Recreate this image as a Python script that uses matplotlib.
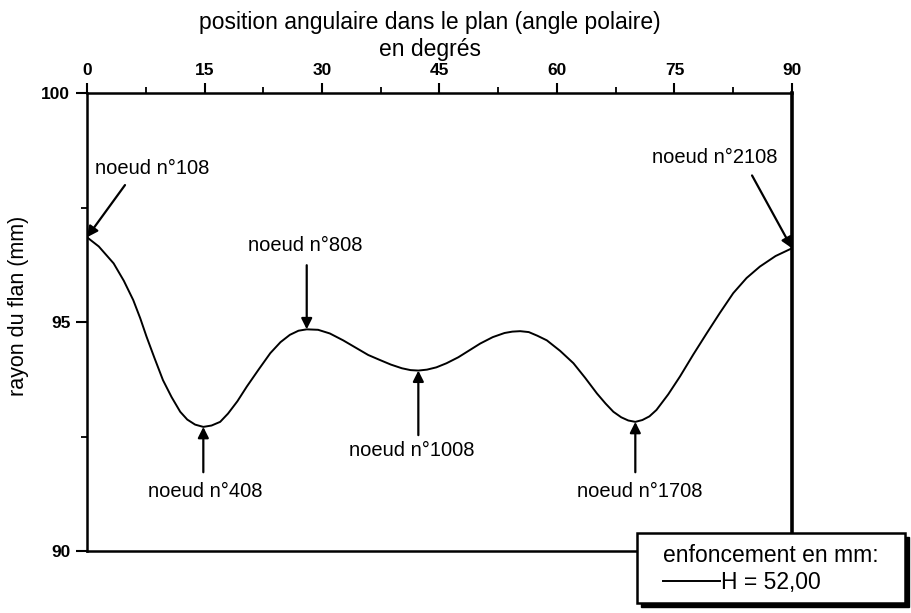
import matplotlib.pyplot as plt
from matplotlib.patches import Rectangle
from matplotlib.ticker import MultipleLocator

plt.rcParams['font.family'] = ['Liberation Sans', 'DejaVu Sans']

# rayon du flan relevé le long du bord (angle polaire en degrés)
angle = [0, 1.5, 3.4, 4.7, 5.9, 6.8, 7.6, 8.6, 9.7, 10.8, 11.9, 12.8, 13.8,
         14.85, 15.9, 17.0, 18.0, 19.2, 20.4, 21.9, 23.4, 24.7, 25.9, 27.0,
         28.05, 29.5, 31.0, 32.7, 34.4, 35.9, 37.4, 38.8, 40.2, 41.3, 42.3,
         43.4, 44.6, 45.9, 47.4, 48.8, 50.2, 51.8, 53.3, 54.3, 55.3, 56.4,
         57.5, 58.7, 60.4, 62.1, 63.6, 65.1, 66.2, 67.2, 68.2, 69.1, 70.0,
         70.9, 71.8, 72.7, 74.2, 75.7, 77.4, 79.1, 80.8, 82.5, 84.2, 85.9,
         87.9, 90.0]
rayon = [96.85, 96.65, 96.28, 95.90, 95.48, 95.08, 94.68, 94.22, 93.73,
         93.36, 93.04, 92.87, 92.76, 92.71, 92.74, 92.82, 93.00, 93.27,
         93.59, 93.96, 94.32, 94.56, 94.72, 94.81, 94.84, 94.83, 94.75,
         94.60, 94.43, 94.28, 94.17, 94.07, 93.99, 93.95, 93.94, 93.96,
         94.01, 94.10, 94.23, 94.38, 94.53, 94.67, 94.76, 94.79, 94.80,
         94.78, 94.70, 94.60, 94.37, 94.10, 93.78, 93.44, 93.22, 93.04,
         92.92, 92.85, 92.82, 92.86, 92.94, 93.08, 93.42, 93.81, 94.29,
         94.75, 95.20, 95.63, 95.96, 96.21, 96.44, 96.61]

# noeuds repérés : libellé, angle du noeud, position du texte, départ de la flèche
noeuds = ['noeud n°108', 'noeud n°408', 'noeud n°808',
          'noeud n°1008', 'noeud n°1708', 'noeud n°2108']
angle_noeud = [0, 14.85, 28.05, 42.3, 70.0, 90.0]
pos_texte = [(8.36, 98.36), (15.06, 91.29), (27.8, 96.68),
             (41.4, 92.2), (70.6, 91.29), (80.1, 98.6)]
depart = [(4.85, 97.99), (14.85, 91.72), (28.05, 96.24),
          (42.3, 92.53), (70.0, 91.72), (84.9, 98.2)]

fig = plt.figure(figsize=(9.12, 6.13), dpi=100)
ax = fig.add_axes([0.0954, 0.1011, 0.773, 0.7472])

courbe, = ax.plot(angle, rayon, color='black', lw=1.4, label='H = 52,00')

ax.set_xlim(0, 90)
ax.set_ylim(90, 100)

# axe des angles en haut
ax.xaxis.tick_top()
ax.xaxis.set_label_position('top')
ax.xaxis.set_major_locator(MultipleLocator(15))
ax.xaxis.set_minor_locator(MultipleLocator(7.5))
ax.yaxis.set_major_locator(MultipleLocator(5))
ax.yaxis.set_minor_locator(MultipleLocator(2.5))
ax.tick_params(axis='x', which='major', direction='out', length=7, width=1.5,
               labelsize=12.5, pad=4)
ax.tick_params(axis='x', which='minor', direction='out', length=4, width=1.3)
ax.tick_params(axis='y', which='major', direction='out', length=8, width=1.5,
               labelsize=12.5, pad=4)
ax.tick_params(axis='y', which='minor', direction='out', length=4, width=1.3)
for lab in ax.get_xticklabels() + ax.get_yticklabels():
    lab.set_fontweight('bold')

for cote in ['left', 'top', 'bottom']:
    ax.spines[cote].set_linewidth(1.8)
ax.spines['right'].set_linewidth(2.6)

ax.set_xlabel('position angulaire dans le plan (angle polaire)\nen degrés',
              fontsize=16.5, labelpad=5, linespacing=1.2)
ax.xaxis.label.set_x(0.4865)
ax.set_ylabel('rayon du flan (mm)', fontsize=15.5, labelpad=9)
ax.yaxis.label.set_y(0.535)

for nom, a, txt, dep in zip(noeuds, angle_noeud, pos_texte, depart):
    i = angle.index(a)
    ax.text(txt[0], txt[1], nom, fontsize=14.5, ha='center', va='center')
    ax.annotate('', xy=(angle[i], rayon[i]), xytext=dep,
                arrowprops=dict(arrowstyle='-|>', color='black', lw=1.6,
                                mutation_scale=16, shrinkA=0, shrinkB=0),
                annotation_clip=False)

# cadre de la légende avec son ombre portée
fig.patches.append(Rectangle((0.7029, 0.0098), 0.2939, 0.1142,
                             transform=fig.transFigure, facecolor='black',
                             edgecolor='black', zorder=3))
fig.patches.append(Rectangle((0.6985, 0.0163), 0.2939, 0.1142,
                             transform=fig.transFigure, facecolor='white',
                             edgecolor='black', lw=1.8, zorder=4))

leg = fig.legend(handles=[courbe], title='enfoncement en mm:',
                 loc='center left', bbox_to_anchor=(0.727, 0.0718),
                 fontsize=16.5, title_fontsize=16.5, alignment='left',
                 frameon=False, handlelength=2.5, handletextpad=0.05,
                 borderpad=0, borderaxespad=0, labelspacing=0.2)
leg.set_zorder(6)

fig.savefig('out.png', dpi=100)
